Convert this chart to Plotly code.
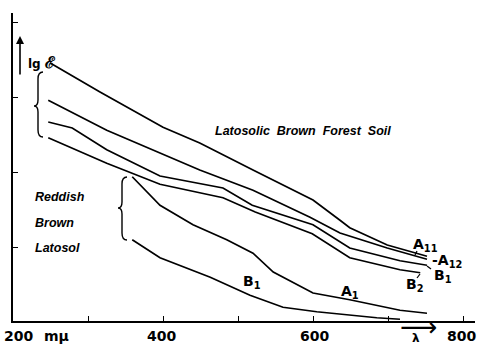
import plotly.graph_objects as go

# ---- data (wavelength in mμ, lg ε in arbitrary units) ----
wl_A11 = [249, 316, 400, 449, 520, 600, 636, 649, 699, 752]
lg_A11 = [3.43, 3.04, 2.57, 2.36, 2.00, 1.60, 1.33, 1.23, 1.00, 0.85]

wl_A12 = [247, 325, 449, 520, 596, 636, 699, 752]
lg_A12 = [2.93, 2.53, 2.00, 1.73, 1.37, 1.16, 0.96, 0.81]

wl_B1f = [247, 279, 325, 396, 480, 519, 600, 649, 716, 752]
lg_B1f = [2.64, 2.56, 2.27, 1.92, 1.76, 1.53, 1.27, 0.96, 0.79, 0.73]

wl_B2f = [247, 325, 396, 480, 523, 599, 649, 716, 743]
lg_B2f = [2.43, 2.09, 1.81, 1.63, 1.44, 1.15, 0.83, 0.67, 0.63]

wl_A1r = [359, 396, 440, 485, 520, 547, 600, 649, 716, 752]
lg_A1r = [1.91, 1.53, 1.27, 1.07, 0.89, 0.64, 0.36, 0.27, 0.13, 0.09]

wl_B1r = [359, 396, 463, 516, 560, 605, 685, 716]
lg_B1r = [1.07, 0.83, 0.57, 0.33, 0.17, 0.11, 0.03, 0.01]

x_tick_vals = [300, 400, 500, 600, 700, 800]
x_tick_labels = ["400", "600", "800"]
y_tick_vals = [0.97, 1.97, 2.97, 3.97]

W, H = 477, 344
ML, MR, MT, MB = 13, 2, 13, 23


def px2x(px):
    return 200 + (px - 13) * 4 / 3


def py2y(py):
    return (320 - py) / 75


def py2paper(py):
    return (H - MB - py) / (H - MT - MB)


XR = [px2x(ML), px2x(W - MR)]
YR = [py2y(H - MB), py2y(MT)]

fig = go.Figure()
line = dict(color="black", width=1.7)
for xs, ys in [(wl_A11, lg_A11), (wl_A12, lg_A12), (wl_B1f, lg_B1f),
               (wl_B2f, lg_B2f), (wl_A1r, lg_A1r), (wl_B1r, lg_B1r)]:
    fig.add_trace(go.Scatter(x=xs, y=ys, mode="lines", line=line,
                             showlegend=False, hoverinfo="skip", cliponaxis=False))

FONT = "DejaVu Sans"
ITF = "Liberation Sans"
ann = []


def text(px, py, s, size=14, anchor="center", family=FONT, weight="normal", style="normal",
         paper=False):
    ann.append(dict(x=px2x(px), y=(py2paper(py) if paper else py2y(py)), xref="x",
                    yref=("paper" if paper else "y"), text=s, showarrow=False,
                    xanchor=anchor, yanchor="middle",
                    font=dict(family=family, size=size, color="black", weight=weight, style=style)))


# x tick labels (below the plot area)
text(18, 336, "200", 14, weight="bold", paper=True)
text(56, 336, "mμ", 14, weight="bold", paper=True)
for lab, cx in zip(x_tick_labels, [161, 314, 461]):
    text(cx, 336, lab, 14, weight="bold", paper=True)

# λ with a right-pointing arrow drawn as a glyph
text(416, 338, "λ", 12, weight="bold", paper=True)
text(418, 327, "⟶", 26, family="DejaVu Sans", paper=True)

# lg ε with vertical arrow
text(26, 62, "lg <span style='font-size:16px;font-family:DejaVu Serif'>ℰ</span>", 12,
     anchor="left", weight="bold")
ann.append(dict(x=px2x(20), y=py2y(36), xref="x", yref="y",
                axref="pixel", ayref="pixel", ax=0, ay=40, text="", showarrow=True,
                arrowhead=2, arrowsize=1, arrowwidth=1.6, arrowcolor="black"))

# group labels
text(213, 131, "Latosolic  Brown  Forest  Soil", 12.5, anchor="left", family=ITF,
     weight="bold", style="italic")
text(33, 197, "Reddish", 12.5, anchor="left", family=ITF, weight="bold", style="italic")
text(33, 223, "Brown", 12.5, anchor="left", family=ITF, weight="bold", style="italic")
text(33, 248, "Latosol", 12.5, anchor="left", family=ITF, weight="bold", style="italic")

# curve labels
text(411, 245, "A<sub>11</sub>", 14, anchor="left", weight="bold")
text(430, 261, "-A<sub>12</sub>", 14, anchor="left", weight="bold")
text(432, 276, "B<sub>1</sub>", 14, anchor="left", weight="bold")
text(404, 285, "B<sub>2</sub>", 14, anchor="left", weight="bold")
text(339, 292, "A<sub>1</sub>", 14, anchor="left", weight="bold")
text(241, 282, "B<sub>1</sub>", 14, anchor="left", weight="bold")


def brace(xe, xs, xt, yt, ym, yb):
    X = px2x
    Y = py2y
    return (f"M {X(xe)},{Y(yt)} Q {X(xs)},{Y(yt)} {X(xs)},{Y(yt + 7)} "
            f"L {X(xs)},{Y(ym - 6)} Q {X(xs)},{Y(ym)} {X(xt)},{Y(ym)} "
            f"Q {X(xs)},{Y(ym)} {X(xs)},{Y(ym + 6)} "
            f"L {X(xs)},{Y(yb - 7)} Q {X(xs)},{Y(yb)} {X(xe)},{Y(yb)}")


shapes = [
    dict(type="path", xref="x", yref="y", path=brace(43, 38, 34, 72, 106, 137),
         line=dict(color="black", width=1.4)),
    dict(type="path", xref="x", yref="y", path=brace(127, 122, 118, 177, 208, 240),
         line=dict(color="black", width=1.4)),
    # small leader marks
    dict(type="line", xref="x", yref="y", x0=px2x(415), y0=py2y(255), x1=px2x(417), y1=py2y(251),
         line=dict(color="black", width=1.2)),
    dict(type="line", xref="x", yref="y", x0=px2x(427), y0=py2y(266), x1=px2x(431), y1=py2y(269),
         line=dict(color="black", width=1.2)),
    dict(type="line", xref="x", yref="y", x0=px2x(420), y0=py2y(274), x1=px2x(417), y1=py2y(278),
         line=dict(color="black", width=1.2)),
]

fig.update_layout(
    width=W, height=H, margin=dict(l=ML, r=MR, t=MT, b=MB, pad=0),
    paper_bgcolor="white", plot_bgcolor="white",
    annotations=ann, shapes=shapes, showlegend=False,
    xaxis=dict(range=XR, showgrid=False, zeroline=False, showline=True, linecolor="black",
               linewidth=1.5, ticks="inside", ticklen=5, tickwidth=1.2, tickcolor="black",
               tickvals=x_tick_vals, showticklabels=False, fixedrange=True),
    yaxis=dict(range=YR, showgrid=False, zeroline=False, showline=True, linecolor="black",
               linewidth=1.5, ticks="inside", ticklen=5, tickwidth=1.2, tickcolor="black",
               tickvals=y_tick_vals, showticklabels=False, fixedrange=True),
)

fig.write_html("out.html")
